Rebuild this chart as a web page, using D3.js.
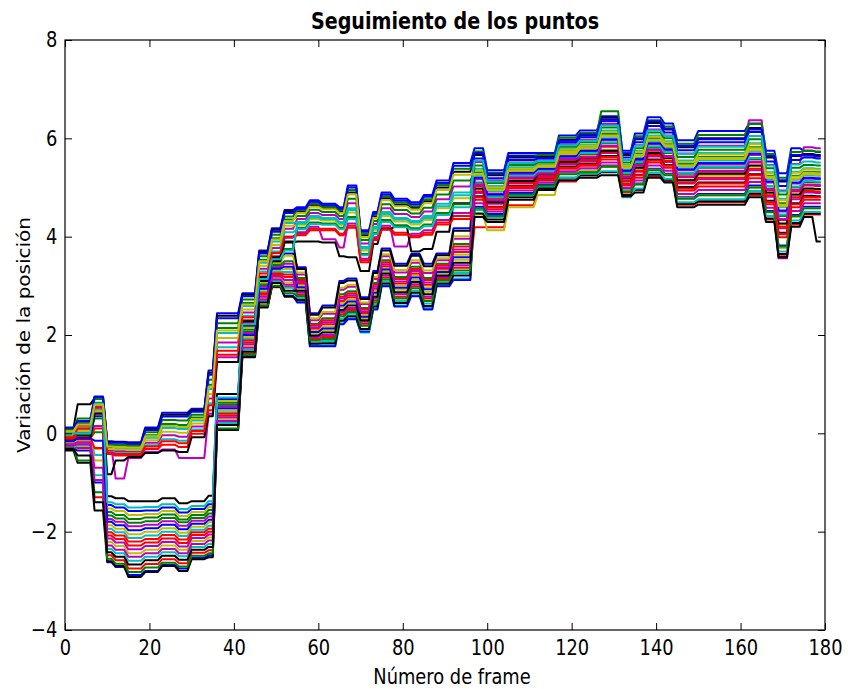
<!DOCTYPE html>
<html>
<head>
<meta charset="utf-8">
<script src="https://cdn.jsdelivr.net/npm/d3@7"></script>
<style>
  body { margin: 0; background: #fff; }
  text { font-family: "DejaVu Sans", sans-serif; fill: #000; }
</style>
</head>
<body>
<svg id="chart" width="848" height="689"></svg>
<script>
// Frame at which each plateau of the tracked positions starts
const frames = [0, 3, 7, 10, 12, 15, 19, 23, 27, 30, 34, 36, 42, 46, 49, 52, 55, 58, 61, 65,
  67, 70, 73, 75, 78, 82, 85, 88, 92, 97, 100, 105, 112, 117, 122, 127, 132, 135, 138, 142,
  145, 150, 162, 166, 169, 172, 175, 178];
const lastFrame = 179;

const xTicks = [0, 20, 40, 60, 80, 100, 120, 140, 160, 180];
const yTicks = [-4, -2, 0, 2, 4, 6, 8];

// Position variation of each tracked point, one value per plateau
const p00 = [0.05,0.2,0.75, -0.16,-0.17,-0.18,0.12,0.42,0.42,0.5,1.28, 2.44,2.85,3.72,4.17,4.54, 4.6,4.74,4.67,4.6,5.04,4.13,4.5,4.9,4.77,4.7,4.85,5.14,5.5, 5.8,5.35,5.7,5.7,6.06,6.16,6.45, 5.75,6.1,6.43,6.3,5.96,6.15,6.3, 5.75,5.29,5.8,5.75,5.72];
const p01 = [-0.05,-0.1,0.02, -1.67,-1.73,-1.82,-1.79,-1.72,-1.81,-1.72,-1.63, 0.58,2.07,3.01,3.41,3.5, 3.16,2.23,2.34,2.83,2.89,2.55,3.06,3.52,3.18,3.39,3.16,3.45,3.85, 5.1,4.82,5.22,5.32,5.6,5.68,5.9, 5.27,5.5,5.81,5.7,5.28,5.4,5.58, 5.02,4.42,5.0,5.11,5.1];
const p02 = [-0.1,0.05,0.45, -0.42,-0.45,-0.45,-0.32,-0.23,-0.28,-0.01,0.47, 1.6,2.3,3.19,3.6,4.0, 4.06,4.16,4.16,4.06,4.22,3.52,3.96,4.18,4.08,4.02,4.08,4.29,4.42, 4.75,4.56,4.99,5.14,5.38,5.44,5.57, 5.04,5.2,5.51,5.4,4.94,5.02,5.19, 4.66,3.99,4.6,4.75,4.75];
const p03 = [-0.15,-0.05,-0.44, -1.94,-2.01,-2.13,-2.08,-2.0,-2.09,-1.96,-1.88, 0.43,1.92,2.88,3.28,3.28, 2.68,1.78,1.79,2.24,2.34,2.05,2.54,3.01,2.6,2.81,2.55,3.0,3.15, 5.38,5.03,5.41,5.47,5.79,5.87,6.16, 5.46,5.74,6.06,5.94,5.55,5.7,5.9, 5.31,4.77,5.32,5.39,5.38];
const p04 = [0.0,0.15,0.55, -0.35,-0.36,-0.37,-0.19,-0.04,-0.07,0.14,0.71, 1.85,2.46,3.35,3.77,4.16, 4.36,4.48,4.44,4.36,4.68,3.86,4.26,4.58,4.46,4.4,4.51,4.76,5.02, 5.52,5.14,5.51,5.55,5.88,5.97,6.29, 5.56,5.86,6.18,6.06,5.69,5.85,6.37, 5.46,4.94,5.48,5.82,5.8];
const p05 = [-0.2,-0.15,-0.32, -1.87,-1.94,-2.05,-2.0,-1.93,-2.02,-1.9,-1.81, 0.47,1.96,2.91,3.32,3.34, 3.01,2.09,2.17,2.65,2.72,2.41,2.9,3.36,3.0,3.21,2.97,3.31,3.63, 4.96,4.72,5.13,5.25,5.51,5.58,5.77, 5.18,5.38,5.69,5.58,5.14,5.25,5.43, 4.88,4.25,4.84,4.97,4.96];
const p06 = [0.1,0.59,0.72, -0.18,-0.18,-0.2,0.09,0.38,0.38,0.47,1.23, 2.39,2.82,3.69,4.14,4.51, 4.51,4.64,4.58,4.51,4.9,4.03,4.41,4.78,4.65,4.59,4.72,5.0,5.32, 5.66,5.25,5.61,5.63,5.97,6.06,6.42, 5.66,5.98,6.31,6.18,5.82,6.0,6.21, 5.61,5.12,5.64,5.68,5.66];
const p07 = [-0.3,-0.35,-1.0, -2.62,-2.72,-2.88,-2.8,-2.68,-2.75,-2.53,-2.48, 0.08,1.57,2.58,2.99,2.8, 2.66,1.77,1.77,2.22,2.32,2.07,2.52,2.99,2.58,2.79,2.52,2.99,3.12, 4.61,4.46,4.89,5.06,5.29,5.34,5.45, 4.94,5.08,5.38,5.28,4.8,4.87,5.04, 4.52,3.82,4.44,4.61,4.61];
const p08 = [0.08,0.22,0.62, -0.25,-0.26,-0.28,-0.04,0.19,0.17,0.32,0.99, 2.14,2.65,3.53,3.97,4.35, 4.42,4.55,4.5,4.42,4.77,3.93,4.32,4.66,4.54,4.47,4.59,4.86,5.14, 5.31,4.98,5.37,5.44,5.74,5.82,6.09, 5.42,5.68,6.0,5.88,5.48,5.62,5.82, 5.24,4.68,5.24,5.32,5.31];
const p09 = [-0.25,-0.3,-1.3, -2.48,-2.58,-2.75,-2.66,-2.56,-2.64,-2.43,-2.38, 0.2,1.62,2.6,2.97,2.98, 2.82,1.92,1.96,2.42,2.51,2.23,2.7,3.17,2.78,2.99,2.74,3.14,3.37, 4.19,4.19,4.64,5.0,5.12,5.25,5.43, 4.9,4.95,5.22,5.12,4.65,4.7,4.85, 4.35,3.6,4.25,4.45,4.45];
const p10 = [-0.02,0.1,0.6, -0.28,-0.3,-0.31,-0.09,0.11,0.09,0.26,0.9, 2.04,2.59,3.47,3.9,4.28, 4.3,4.42,4.38,4.3,4.58,3.79,4.2,4.5,4.38,4.32,4.42,4.67,4.9, 5.24,4.93,5.32,5.4,5.7,5.78,6.03, 5.37,5.62,5.94,5.82,5.42,5.55,5.74, 5.17,4.6,5.16,5.25,5.24];
const p11 = [-0.12,0.0,0.42, -0.3,-0.92,-0.5,-0.38,-0.33,-0.5,-0.5,0.4, 1.55,2.25,3.15,3.55,3.98, 4.09,4.2,3.95,3.78,4.27,3.55,3.99,4.22,3.8,4.06,4.13,4.34,4.48, 4.89,4.67,5.08,5.21,5.47,5.54,5.7, 5.13,5.32,5.63,5.52,5.08,5.17,5.35, 4.81,4.17,4.76,4.9,4.89];
const p12 = [-0.18,-0.2,-0.55, -2.21,-2.29,-2.44,-2.37,-2.28,-2.37,-2.19,-2.12, 0.28,1.77,2.75,3.16,3.07, 2.94,2.03,2.09,2.56,2.64,2.34,2.82,3.29,2.92,3.12,2.88,3.25,3.53, 4.45,4.13,4.6,4.85,5.28,5.34,5.42, 4.93,5.06,5.36,5.26,4.78,4.84,5.0, 4.49,3.77,4.4,4.58,4.58];
const p13 = [0.0,-0.05,0.5, -1.28,-1.32,-1.38,-1.38,-1.32,-1.42,-1.38,-1.27, 0.8,2.28,3.18,3.58,3.88, 3.9,3.9,3.88,3.6,3.58,3.3,3.85,4.15,4.2,3.7,3.75,4.1,4.68, 4.47,4.35,4.8,4.99,5.2,5.25,5.31, 4.85,4.96,5.26,5.16,4.67,4.72,4.88, 4.37,3.65,4.28,4.47,4.47];
const p14 = [0.02,0.05,0.35, -1.46,-1.51,-1.58,-1.57,-1.51,-1.61,-1.54,-1.44, 0.7,2.19,3.1,3.51,3.66, 3.38,2.44,2.6,3.1,3.15,2.77,3.3,3.76,3.45,3.65,3.45,3.66,4.17, 5.59,5.19,5.56,5.59,5.92,6.02,6.35, 5.61,5.92,6.25,6.12,5.76,5.92,6.13, 5.53,5.03,5.56,5.61,5.59];
const p15 = [0.06,0.3,0.7, -0.22,-0.23,-0.24,0.02,0.27,0.26,0.38,1.09, 2.24,2.72,3.6,4.04,4.41, 4.54,4.68,4.61,4.54,4.95,4.06,4.44,4.82,4.69,4.62,4.76,5.05,5.38, 5.73,5.3,5.65,5.66,6.01,6.11,6.55, 5.7,6.04,6.37,6.24,5.89,6.07,6.29, 5.68,5.2,5.72,5.75,5.73];
const p16 = [-0.08,-0.12,0.1, -2.08,-2.15,-2.28,-2.22,-2.14,-2.23,-2.07,-2.0, 0.36,1.85,2.82,3.22,3.18, 3.05,2.13,2.22,2.69,2.77,2.45,2.94,3.4,3.05,3.25,3.02,3.35,3.69, 5.03,4.77,5.18,5.29,5.56,5.63,5.83, 5.23,5.44,5.75,5.64,5.21,5.32,5.51, 4.95,4.34,4.92,5.04,5.03];
const p17 = [-0.28,-0.25,-0.85, -2.35,-2.44,-2.59,-2.51,-2.42,-2.5,-2.31,-2.25, 0.21,1.7,2.69,3.1,2.96, 2.75,1.85,1.88,2.33,2.43,2.1,2.62,3.09,2.69,2.9,2.64,3.07,3.26, 4.54,4.4,4.84,5.02,5.2,5.28,5.33, 4.8,4.98,5.3,5.18,4.7,4.76,4.93, 4.42,3.7,4.33,4.5,4.5];
const p18 = [-0.1,0.02,0.15, -1.74,-1.8,-1.89,-1.86,-1.79,-1.88,-1.78,-1.69, 0.55,2.04,2.98,3.38,3.45, 3.23,2.3,2.43,2.92,2.98,2.63,3.14,3.6,3.27,3.47,3.26,3.52,3.96, 5.17,4.88,5.27,5.36,5.65,5.73,5.96, 5.32,5.56,5.88,5.76,5.35,5.47,5.66, 5.1,4.51,5.08,5.18,5.17];
const p19 = [0.03,0.12,0.5, -0.32,-0.33,-0.34,-0.14,0.03,0.01,0.2,0.8, 1.94,2.52,3.41,3.83,4.22, 4.24,4.36,4.33,4.24,4.49,3.72,4.14,4.42,4.31,4.25,4.34,4.58,4.78, 5.34,5.0,5.38,5.45,5.77,5.85,6.13, 5.44,5.72,6.03,5.92,5.52,5.67,5.88, 5.29,4.74,5.3,5.37,5.36];
const p20 = [-0.35,-0.6,-1.57, -2.6,-2.7,-2.92,-2.82,-2.7,-2.8,-2.56,-2.52, 0.07,1.55,2.56,2.98,2.78, 2.71,1.82,1.83,2.29,2.38,2.12,2.58,3.05,2.65,2.86,2.59,3.04,3.21, 4.82,4.61,5.03,5.17,5.42,5.49,5.64, 5.08,5.26,5.57,5.46,5.01,5.1,5.27, 4.73,4.08,4.68,4.83,4.82];
const p21 = [0.12,0.25,0.74, -0.19,-0.19,-0.21,0.07,0.34,0.34,0.44,1.19, 2.34,2.79,3.66,4.1,4.48, 4.57,4.71,4.64,4.57,5.0,4.1,4.47,4.86,4.73,4.66,4.81,5.09,5.44, 5.7,5.28,5.64,5.6,5.95,6.08,6.38, 5.69,6.0,6.35,6.2,5.85,5.98,6.18, 5.64,5.15,5.66,5.65,5.63];
const p22 = [-0.04,-0.02,0.3, -1.6,-1.66,-1.74,-1.71,-1.65,-1.75,-1.66,-1.56, 0.62,2.11,3.04,3.44,3.75, 4.18,4.29,4.27,4.18,4.4,3.65,4.08,4.34,4.23,4.17,4.25,4.48,4.66, 5.45,5.09,5.46,5.51,5.83,5.92,6.22, 5.51,5.8,6.12,6.0,5.62,5.77,5.98, 5.39,4.86,5.4,5.46,5.45];
const p23 = [-0.12,-0.08,-0.3, -2.01,-2.08,-2.2,-2.15,-2.07,-2.16,-2.01,-1.94, 0.4,1.89,2.85,3.25,3.23, 3.12,2.2,2.3,2.78,2.85,2.52,3.02,3.48,3.14,3.34,3.12,3.42,3.8, 4.92,4.7,5.1,5.23,5.5,5.56,5.72, 5.15,5.34,5.66,5.54,5.1,5.2,5.38, 4.84,4.2,4.8,4.93,4.92];
const p24 = [-0.06,0.08,0.48, -0.38,-0.4,-0.4,-0.24,-0.12,-0.15,0.08,0.61, 1.75,2.39,3.29,3.7,4.09, 4.15,4.26,4.24,4.15,4.36,3.62,4.05,4.3,4.19,4.14,4.21,4.44,4.6, 5.08,4.8,5.24,5.33,5.62,5.7,5.92, 5.3,5.52,5.84,5.72,5.3,5.42,5.6, 5.03,4.45,5.02,5.13,5.12];
const p25 = [-0.22,-0.18,-0.7, -2.14,-2.22,-2.36,-2.29,-2.21,-2.3,-2.13,-2.06, 0.32,1.81,2.78,3.19,3.12, 2.86,1.96,2.0,2.47,2.55,2.27,2.74,3.21,2.83,3.03,2.78,3.18,3.42, 4.68,4.51,4.94,5.1,5.33,5.39,5.51, 4.99,5.14,5.45,5.34,4.87,4.95,5.11, 4.59,3.56,4.52,4.68,4.68];
const p26 = [-0.02,0.05,0.45, -1.53,-1.58,-1.66,-1.64,-1.58,-1.68,-1.6,-1.5, 0.66,2.15,3.07,3.47,3.61, 3.27,2.34,2.47,2.96,3.02,2.66,3.18,3.64,3.32,3.52,3.31,3.56,4.01, 5.27,4.95,5.34,5.42,5.72,5.8,6.06, 5.4,5.66,5.97,5.86,5.45,5.6,5.8, 5.22,4.65,5.22,5.3,5.29];
const p27 = [-0.15,-0.1,0.4, -0.83,-0.55,-0.48,-0.4,-0.35,-0.38,-0.08,0.35, 1.45,2.2,3.1,3.5,3.9, 3.34,2.41,2.56,3.06,3.11,2.73,3.26,3.72,3.41,3.61,3.4,3.62,4.12, 4.98,4.7,5.13,5.27,5.52,5.6,5.75, 5.2,5.4,5.7,5.6,5.15,5.28,5.45, 4.9,4.27,4.86,4.98,4.97];
const p28 = [-0.16,-0.1,-0.15, -1.8,-1.87,-1.97,-1.93,-1.86,-1.95,-1.84,-1.76, 0.51,2.0,2.94,3.35,3.39, 2.97,2.06,2.13,2.6,2.68,2.37,2.86,3.33,2.96,3.17,2.93,3.28,3.58, 5.2,4.86,5.3,5.38,5.63,5.75,5.98, 5.34,5.58,5.9,5.78,5.37,5.5,5.69, 5.12,4.53,5.1,5.2,5.19];
const p29 = [-0.3,-0.55,-1.2, -2.55,-2.65,-2.82,-2.73,-2.63,-2.71,-2.49,-2.44, 0.1,1.6,2.6,3.0,2.85, 2.79,1.89,1.92,2.38,2.47,2.19,2.66,3.13,2.74,2.95,2.69,3.11,3.31, 4.58,4.42,4.86,5.04,5.27,5.31,5.42, 4.92,5.06,5.35,5.25,4.77,4.84,5.0, 4.5,3.8,4.42,4.58,4.58];
const p30 = [-0.08,0.1,0.52, -0.39,-0.42,-0.42,-0.27,-0.16,-0.2,0.05,0.57, 1.68,2.36,3.25,3.67,4.0, 4.03,4.13,4.13,4.03,4.18,3.48,3.93,4.14,4.04,3.99,4.04,4.25,4.36, 4.8,4.6,5.02,5.16,5.4,5.47,5.62, 5.07,5.25,5.55,5.44,4.98,5.08,5.25, 4.7,4.05,4.66,4.8,4.8];
const p31 = [0.0,0.0,0.6, -1.4,-1.44,-1.51,-1.5,-1.44,-1.54,-1.48,-1.38, 0.73,2.22,3.14,3.54,3.72, 4.27,4.39,4.36,4.27,4.54,3.76,4.17,4.46,4.35,4.29,4.38,4.62,4.84, 5.55,5.12,5.5,5.54,5.86,5.95,6.26, 5.56,5.85,6.16,6.05,5.68,5.83,6.05, 5.45,4.92,5.47,5.53,5.51];
const p32 = [-0.25,-0.22,-0.95, -2.28,-2.37,-2.51,-2.44,-2.35,-2.44,-2.25,-2.18, 0.25,1.74,2.72,3.13,3.02, 3.08,2.16,2.26,2.74,2.81,2.48,2.98,3.44,3.09,3.3,3.07,3.38,3.74, 5.06,4.74,5.2,5.28,5.58,5.61,5.85, 5.21,5.46,5.77,5.62,5.23,5.34,5.53, 4.97,4.36,4.95,5.06,5.05];
const p33 = [0.04,0.18,0.58, -0.27,-0.28,-0.29,-0.06,0.15,0.13,0.29,0.95, 2.09,2.62,3.5,3.94,4.32, 4.48,4.61,4.56,4.48,4.86,3.99,4.38,4.74,4.62,4.55,4.68,4.95,5.26, 5.27,4.96,5.34,5.42,5.68,5.8,6.05, 5.4,5.64,5.96,5.84,5.44,5.58,5.76, 5.2,4.62,5.18,5.27,5.26];
const p34 = [-0.32,-0.45,-1.4, -2.42,-2.51,-2.67,-2.58,-2.49,-2.57,-2.37,-2.31, 0.17,1.66,2.66,3.06,2.9, 2.9,1.99,2.05,2.51,2.6,2.3,2.78,3.25,2.87,3.08,2.83,3.21,3.47, 4.4,4.3,4.75,4.95,5.15,5.2,5.25, 4.82,4.9,5.2,5.1,4.6,4.65,4.8, 4.3,3.58,4.2,4.4,3.9];

const tracks = [p00, p01, p02, p03, p04, p05, p06, p07, p08, p09, p10, p11, p12, p13, p14, p15, p16,
  p17, p18, p19, p20, p21, p22, p23, p24, p25, p26, p27, p28, p29, p30, p31, p32, p33, p34];

// Classic colour cycle: b, g, r, c, m, y, k
const palette = ["#0000ff", "#008000", "#ff0000", "#00bfbf", "#bf00bf", "#bfbf00", "#000000"];

const svg = d3.select("#chart");
const plot = { left: 65, right: 825, top: 40, bottom: 630 };
const squeeze = 0.85;   // narrow glyph width used for all labels

const x = d3.scaleLinear().domain([0, 180]).range([plot.left, plot.right]);
const y = d3.scaleLinear().domain([-4, 8]).range([plot.bottom, plot.top]);

// Plateau curve: holds each value, then ramps to the next one over a single frame
const rampWidth = x(1) - x(0);
function curvePlateau(context) {
  let n = 0, prevY = 0;
  return {
    areaStart() {}, areaEnd() {},
    lineStart() { n = 0; },
    lineEnd() {},
    point(px, py) {
      px = +px; py = +py;
      if (n++ === 0) context.moveTo(px, py);
      else { context.lineTo(px - rampWidth, prevY); context.lineTo(px, py); }
      prevY = py;
    }
  };
}

svg.append("defs").append("clipPath").attr("id", "plotClip")
  .append("rect")
  .attr("x", plot.left).attr("y", plot.top)
  .attr("width", plot.right - plot.left).attr("height", plot.bottom - plot.top);

const line = d3.line()
  .x(d => x(d[0]))
  .y(d => y(d[1]))
  .curve(curvePlateau);

const lineLayer = svg.append("g").attr("clip-path", "url(#plotClip)");
tracks.forEach((vals, i) => {
  const pts = vals.map((v, k) => [frames[k], v]);
  pts.push([lastFrame, vals[vals.length - 1]]);
  lineLayer.append("path")
    .attr("d", line(pts))
    .attr("fill", "none")
    .attr("stroke", palette[i % palette.length])
    .attr("stroke-width", 2)
    .attr("stroke-linejoin", "round");
});

// Axes with inward ticks on all four sides
const tickLen = 7;
function styleAxis(g) {
  g.select(".domain").remove();
  g.selectAll(".tick line").attr("stroke", "#000").attr("stroke-width", 1);
  g.selectAll(".tick text")
    .style("font-size", "21px")
    .attr("fill", "#000")
    .attr("transform", `scale(${squeeze},1)`);
}
svg.append("g").attr("transform", `translate(0,${plot.bottom})`)
  .call(d3.axisBottom(x).tickValues(xTicks).tickSize(-tickLen).tickPadding(10).tickFormat(d3.format("d")))
  .call(styleAxis);
svg.append("g").attr("transform", `translate(0,${plot.top})`)
  .call(d3.axisTop(x).tickValues(xTicks).tickSize(-tickLen).tickFormat(""))
  .call(styleAxis);
svg.append("g").attr("transform", `translate(${plot.left},0)`)
  .call(d3.axisLeft(y).tickValues(yTicks).tickSize(-tickLen).tickPadding(9).tickFormat(d3.format("d")))
  .call(styleAxis);
svg.append("g").attr("transform", `translate(${plot.right},0)`)
  .call(d3.axisRight(y).tickValues(yTicks).tickSize(-tickLen).tickFormat(""))
  .call(styleAxis);

svg.append("rect")
  .attr("x", plot.left).attr("y", plot.top)
  .attr("width", plot.right - plot.left).attr("height", plot.bottom - plot.top)
  .attr("fill", "none").attr("stroke", "#000").attr("stroke-width", 1.2);

const midX = (plot.left + plot.right) / 2;

svg.append("text")
  .attr("transform", `translate(${midX + 10},29) scale(${squeeze},1)`)
  .attr("text-anchor", "middle")
  .style("font-size", "22.5px").style("font-weight", "bold")
  .text("Seguimiento de los puntos");

svg.append("text")
  .attr("transform", `translate(${midX + 7},684) scale(${squeeze},1)`)
  .attr("text-anchor", "middle")
  .style("font-size", "21px")
  .text("Número de frame");

svg.append("text")
  .attr("transform", `translate(30,${(plot.top + plot.bottom) / 2}) scale(${squeeze},1) rotate(-90)`)
  .attr("text-anchor", "middle")
  .style("font-size", "20px")
  .text("Variación de la posición");
</script>
</body>
</html>
